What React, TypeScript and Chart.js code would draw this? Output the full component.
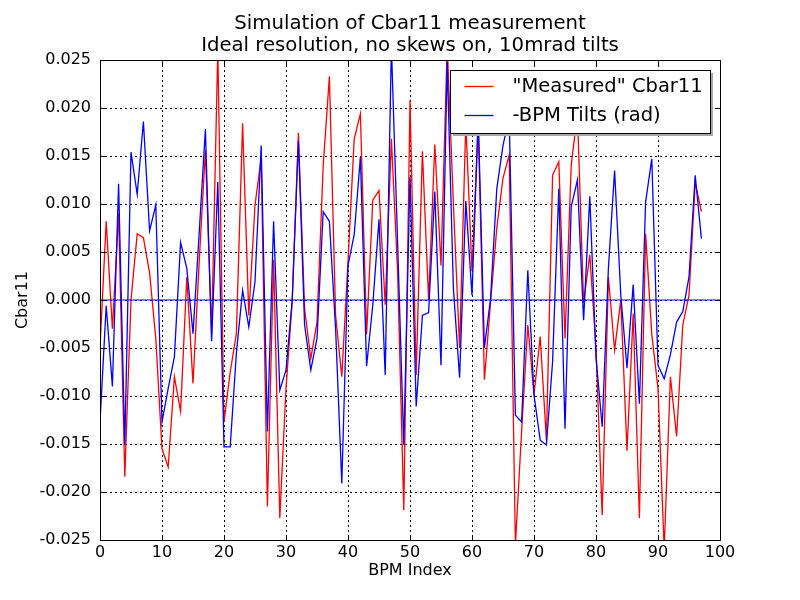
import React, { useEffect, useRef } from 'react';
import { Chart, registerables } from 'chart.js';

Chart.register(...registerables);

const titleLines = ['Simulation of Cbar11 measurement', 'Ideal resolution, no skews on, 10mrad tilts'];
const xLabel = 'BPM Index';
const yLabel = 'Cbar11';
const measuredLabel = '"Measured" Cbar11';
const tiltsLabel = '-BPM Tilts (rad)';

const xTicks = [0, 10, 20, 30, 40, 50, 60, 70, 80, 90, 100];
const yTicks = [-0.025, -0.02, -0.015, -0.01, -0.005, 0, 0.005, 0.01, 0.015, 0.02, 0.025];

const bpmIndex = [
  0, 1, 2, 3, 4, 5, 6, 7, 8, 9, 10, 11, 12, 13, 14, 15, 16, 17, 18, 19,
  20, 21, 22, 23, 24, 25, 26, 27, 28, 29, 30, 31, 32, 33, 34, 35, 36, 37, 38, 39,
  40, 41, 42, 43, 44, 45, 46, 47, 48, 49, 50, 51, 52, 53, 54, 55, 56, 57, 58, 59,
  60, 61, 62, 63, 64, 65, 66, 67, 68, 69, 70, 71, 72, 73, 74, 75, 76, 77, 78, 79,
  80, 81, 82, 83, 84, 85, 86, 87, 88, 89, 90, 91, 92, 93, 94, 95, 96, 97,
];

const measured = [
  -0.005, 0.0082, -0.003, 0.009, -0.0184, 0.0, 0.0069, 0.0065, 0.0028, -0.004,
  -0.0155, -0.0174, -0.008, -0.0116, 0.0024, -0.0087, 0.004, 0.0156, -0.0035, 0.0262,
  -0.0127, -0.0075, -0.0035, 0.0184, -0.0016, 0.0099, 0.0148, -0.0215, 0.0042, -0.0227,
  -0.0092, -0.0002, 0.0174, -0.0009, -0.0061, -0.0023, 0.014, 0.0233, -0.0016, -0.008,
  0.004, 0.0168, 0.0194, -0.0036, 0.0104, 0.0114, -0.0005, 0.0168, 0.003, -0.0219,
  0.0208, -0.0078, 0.0155, 0.0, 0.0162, 0.0036, 0.0265, 0.01, -0.005, 0.0185,
  0.003, 0.0185, -0.0083, -0.0002, 0.0075, 0.0127, 0.0151, -0.0255, -0.0137, -0.0026,
  -0.0099, -0.0038, -0.0146, 0.013, 0.0144, -0.004, 0.014, 0.0195, -0.0003, 0.0047,
  -0.005, -0.0224, 0.0024, -0.0052, 0.0, -0.0157, -0.0014, -0.0227, 0.0069, -0.0036,
  -0.0092, -0.026, -0.008, -0.0142, -0.0026, 0.0005, 0.0122, 0.0092,
];

const tilts = [
  -0.0127, -0.0006, -0.009, 0.0121, -0.0151, 0.0154, 0.011, 0.0186, 0.0072, 0.0099,
  -0.0127, -0.0092, -0.0059, 0.006, 0.0033, -0.0035, 0.007, 0.0178, -0.0043, 0.0123,
  -0.0153, -0.0153, -0.0055, 0.001, -0.0028, 0.0019, 0.0161, -0.0137, 0.0082, -0.0094,
  -0.0073, 0.0, 0.0166, -0.0026, -0.0073, -0.004, 0.0092, 0.0082, -0.003, -0.0191,
  0.0036, 0.0068, 0.0149, -0.0069, -0.0005, 0.0084, -0.0078, 0.0265, 0.006, -0.0151,
  0.0128, -0.0111, -0.0016, -0.0013, 0.0113, -0.0068, 0.0248, 0.0012, -0.0081, 0.0103,
  0.0005, 0.019, -0.005, 0.0002, 0.0116, 0.0161, 0.019, -0.012, -0.0127, 0.0031,
  -0.0099, -0.0146, -0.0151, -0.0064, 0.0116, -0.0134, 0.0097, 0.0125, -0.0021, 0.0108,
  -0.006, -0.0132, 0.0033, 0.0135, 0.0005, -0.0071, 0.0016, -0.0108, 0.0102, 0.0147,
  -0.0068, -0.0082, -0.0057, -0.0023, -0.0012, 0.0024, 0.013, 0.0064,
];

const zeroLineX = [0, 100];
const zeroLineY = [0, 0];

const FONT = '"DejaVu Sans", "Liberation Sans", sans-serif';

const framePlugin = {
  id: 'mplFrame',
  afterDatasetsDraw(chart: any) {
    const { ctx, chartArea: ca, scales } = chart;
    const L = Math.round(ca.left) + 0.5;
    const R = Math.round(ca.right) + 0.5;
    const T = Math.round(ca.top) + 0.5;
    const B = Math.round(ca.bottom) + 0.5;
    ctx.save();
    ctx.strokeStyle = '#000';
    ctx.lineWidth = 1;
    ctx.setLineDash([]);
    // inward ticks
    const tl = 5;
    ctx.beginPath();
    xTicks.forEach((v) => {
      const p = Math.round(scales.x.getPixelForValue(v)) + 0.5;
      ctx.moveTo(p, B); ctx.lineTo(p, B - tl);
      ctx.moveTo(p, T); ctx.lineTo(p, T + tl);
    });
    yTicks.forEach((v) => {
      const p = Math.round(scales.y.getPixelForValue(v)) + 0.5;
      ctx.moveTo(L, p); ctx.lineTo(L + tl, p);
      ctx.moveTo(R, p); ctx.lineTo(R - tl, p);
    });
    ctx.stroke();
    ctx.strokeRect(L, T, R - L, B - T);

    // legend box
    const items = chart.data.datasets.filter((d: any) => d.label);
    ctx.font = '19.5px ' + FONT;
    const textW = Math.max(...items.map((d: any) => ctx.measureText(d.label).width));
    const boxW = Math.round(62 + textW + 8);
    const boxH = 63;
    const bx = Math.round(ca.right - 10 - boxW) + 0.5;
    const by = Math.round(ca.top + 10) + 0.5;
    ctx.fillStyle = '#a6a6a6';
    ctx.fillRect(bx + 2.5, by + 2.5, boxW, boxH);
    ctx.fillStyle = '#fff';
    ctx.fillRect(bx, by, boxW, boxH);
    ctx.strokeStyle = '#000';
    ctx.lineWidth = 1;
    ctx.strokeRect(bx, by, boxW, boxH);
    items.forEach((d: any, i: number) => {
      const cy = by + 16 + i * 29;
      ctx.strokeStyle = d.borderColor;
      ctx.lineWidth = d.borderWidth;
      ctx.beginPath();
      ctx.moveTo(bx + 14, cy);
      ctx.lineTo(bx + 43, cy);
      ctx.stroke();
      ctx.fillStyle = '#000';
      ctx.textAlign = 'left';
      ctx.textBaseline = 'middle';
      ctx.fillText(d.label, bx + 62, cy);
    });
    ctx.restore();
  },
};

export default function App() {
  const ref = useRef<HTMLCanvasElement | null>(null);

  useEffect(() => {
    if (!ref.current) return;
    Chart.defaults.font.family = FONT;
    Chart.defaults.color = '#000';
    const toPts = (ys: number[]) => ys.map((y, i) => ({ x: bpmIndex[i], y }));
    const chart = new Chart(ref.current, {
      type: 'line',
      data: {
        datasets: [
          {
            label: measuredLabel,
            data: toPts(measured),
            borderColor: '#ff0000',
            borderWidth: 1.3,
            pointRadius: 0,
            tension: 0,
            fill: false,
            order: 3,
          },
          {
            label: tiltsLabel,
            data: toPts(tilts),
            borderColor: '#0000ff',
            borderWidth: 1.3,
            pointRadius: 0,
            tension: 0,
            fill: false,
            order: 2,
          },
          {
            label: '',
            data: zeroLineX.map((x, i) => ({ x, y: zeroLineY[i] })),
            borderColor: '#0000ff',
            borderWidth: 1,
            pointRadius: 0,
            fill: false,
            order: 1,
          },
        ],
      },
      options: {
        responsive: false,
        animation: false,
        parsing: false as any,
        layout: { padding: { left: 0, right: 80, top: 0, bottom: 0 } },
        plugins: {
          legend: { display: false },
          tooltip: { enabled: false },
          title: {
            display: true,
            text: titleLines,
            fullSize: false,
            color: '#000',
            font: { family: FONT, size: 19.7, weight: 'normal', lineHeight: 1.12 },
            padding: { top: 13, bottom: 2.9 },
          },
        },
        scales: {
          x: {
            type: 'linear',
            min: 0,
            max: 100,
            afterBuildTicks: (s: any) => { s.ticks = xTicks.map((v) => ({ value: v })); },
            afterFit: (s: any) => { s.height = 60; },
            grid: { color: '#000', lineWidth: 1, drawTicks: false },
            border: { display: false, dash: [2, 3] },
            ticks: {
              padding: 3,
              maxRotation: 0,
              font: { family: FONT, size: 16 },
              color: '#000',
              callback: (v: any) => String(v),
            },
            title: {
              display: true,
              text: xLabel,
              font: { family: FONT, size: 16 },
              color: '#000',
              padding: { top: 0, bottom: 20 },
            },
          },
          y: {
            type: 'linear',
            min: -0.025,
            max: 0.025,
            afterBuildTicks: (s: any) => { s.ticks = yTicks.map((v) => ({ value: v })); },
            afterFit: (s: any) => { s.width = 100; },
            grid: { color: '#000', lineWidth: 1, drawTicks: false },
            border: { display: false, dash: [2, 3] },
            ticks: {
              padding: 9,
              font: { family: FONT, size: 16 },
              color: '#000',
              callback: (v: any) => (Math.abs(v) < 1e-9 ? '0.000' : Number(v).toFixed(3)),
            },
            title: {
              display: true,
              text: yLabel,
              font: { family: FONT, size: 16 },
              color: '#000',
              padding: { top: 13, bottom: 0 },
            },
          },
        },
      },
      plugins: [framePlugin],
    });
    return () => chart.destroy();
  }, []);

  return (
    <div style={{ position: 'absolute', left: 0, top: 0, width: 800, height: 600, background: '#fff' }}>
      <canvas ref={ref} width={800} height={600} style={{ display: 'block', width: 800, height: 600 }} />
    </div>
  );
}
